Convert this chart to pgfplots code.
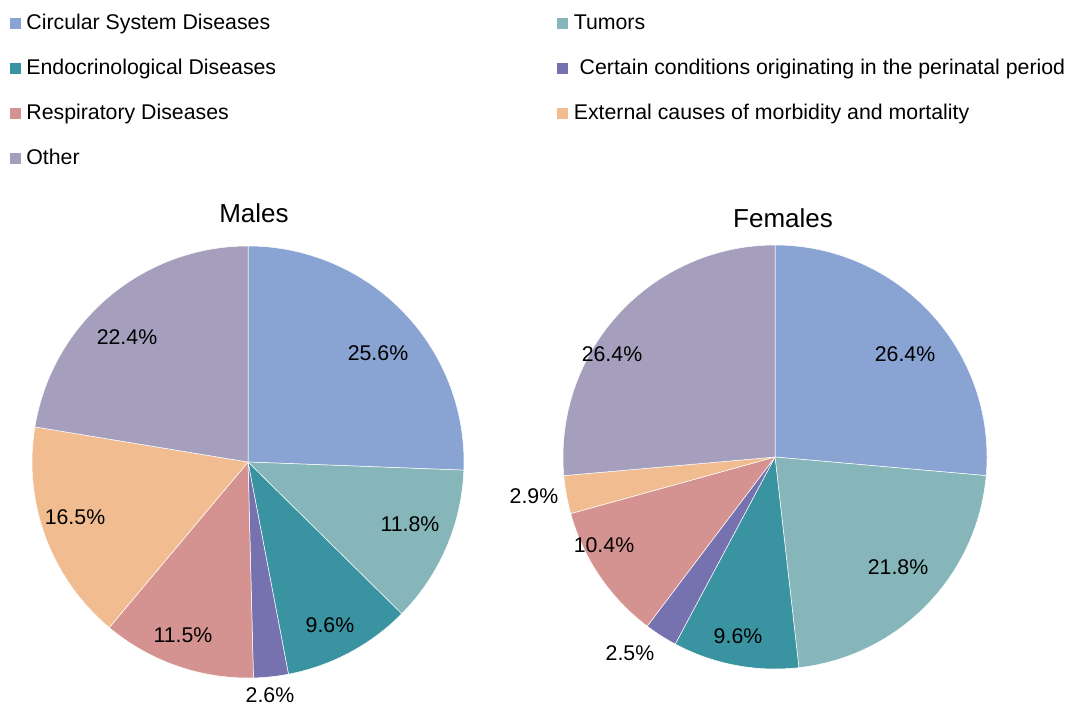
\documentclass[border=0pt]{standalone}
\usepackage{pgfplots}
\usepackage{pgfplotstable}
\pgfplotsset{compat=1.18}
\usepackage{fontspec}
\setmainfont{Liberation Sans}
\definecolor{c0}{HTML}{89A3D3}
\definecolor{c1}{HTML}{86B6BA}
\definecolor{c2}{HTML}{3A93A1}
\definecolor{c3}{HTML}{7572AF}
\definecolor{c4}{HTML}{D49290}
\definecolor{c5}{HTML}{F2BC91}
\definecolor{c6}{HTML}{A59EBD}
\newcommand\labelfont{\fontsize{21.3}{25}\selectfont}
% value (percent), label position (pixel coordinates)
\pgfplotstableread{
value lx ly
25.6 378 353
11.8 410 524
9.6 330 625
2.6 270 695
11.5 183 635
16.5 75 517
22.4 127 337
}\males
\pgfplotstableread{
value lx ly
26.4 905 354
21.8 898 567
9.6 738 636
2.5 630 653
10.4 604 545
2.9 534 496
26.4 612 354
}\females
\newcommand\drawpie[4]{%
  \def\cum{0}%
  \pgfplotsforeachungrouped \ii in {0,...,6}{%
    \pgfplotstablegetelem{\ii}{value}\of{#1}\let\pv\pgfplotsretval
    \pgfplotstablegetelem{\ii}{lx}\of{#1}\let\plx\pgfplotsretval
    \pgfplotstablegetelem{\ii}{ly}\of{#1}\let\ply\pgfplotsretval
    \pgfmathsetmacro\sa{90-3.6*\cum}%
    \pgfmathsetmacro\cum{\cum+\pv}%
    \pgfmathsetmacro\sb{90-3.6*\cum}%
    \edef\tmp{\noexpand\fill[c\ii, draw=white, line width=0.5pt] (axis cs:#2,#3) -- ++(\sa:#4pt) arc[start angle=\sa, end angle=\sb, radius=#4pt] -- cycle;
      \noexpand\node[font=\noexpand\labelfont, inner sep=0pt] at (axis cs:\plx,\ply) {\pv\noexpand\%};}%
    \tmp
  }%
}
\begin{document}
\begin{tikzpicture}
\useasboundingbox (0,0) rectangle (1067pt,705pt);
\begin{axis}[
  at={(0,0)}, anchor=south west,
  scale only axis, width=1067pt, height=705pt,
  xmin=0, xmax=1067, ymin=0, ymax=705, y dir=reverse,
  hide axis, clip=false,
  legend columns=2,
  legend image code/.code={\fill[#1] (0pt,1pt) rectangle (10pt,11pt);},
  legend style={at={(axis cs:10,14)}, anchor=north west, draw=none, fill=none,
    inner sep=0pt, outer sep=0pt, font=\labelfont,
    row sep=25pt, column sep=6pt,
    cells={anchor=base west},
    nodes={inner sep=0pt, text height=15pt, text depth=5pt}},
]
\addlegendimage{c0}
\addlegendentry{\makebox[525pt][l]{Circular System Diseases}}
\addlegendimage{c1}
\addlegendentry{Tumors}
\addlegendimage{c2}
\addlegendentry{\makebox[525pt][l]{Endocrinological Diseases}}
\addlegendimage{c3}
\addlegendentry{\ Certain conditions originating in the perinatal period}
\addlegendimage{c4}
\addlegendentry{\makebox[525pt][l]{Respiratory Diseases}}
\addlegendimage{c5}
\addlegendentry{External causes of morbidity and mortality}
\addlegendimage{c6}
\addlegendentry{Other}
\drawpie{\males}{248}{462}{216}
\drawpie{\females}{775}{457}{212}
\node[font=\fontsize{26}{30}\selectfont] at (axis cs:254,213) {Males};
\node[font=\fontsize{26}{30}\selectfont] at (axis cs:783,218) {Females};
\end{axis}
\end{tikzpicture}
\end{document}
